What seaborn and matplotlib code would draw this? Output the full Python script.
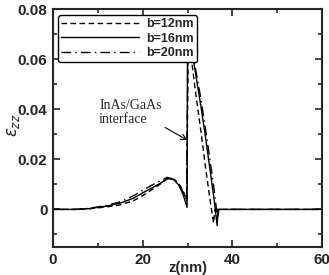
import numpy as np
import pandas as pd
import matplotlib
matplotlib.use("Agg")
import matplotlib.pyplot as plt
import seaborn as sns
from matplotlib.ticker import MultipleLocator

sns.set_style("ticks")
plt.rcParams['font.family'] = ['Liberation Sans', 'DejaVu Sans']

# strain profiles
z_b12 = [0, 5, 8, 10, 12, 15, 18, 20, 22, 24, 25.5, 27, 28, 29, 29.8,
         30.2, 31, 32, 33, 34, 35, 35.8, 36.1, 60]
eps_b12 = [0, 0, 0.0002, 0.0006, 0.001, 0.0018, 0.0035, 0.0055, 0.0078, 0.0102, 0.0122, 0.012, 0.0105, 0.0075, 0.0035,
           0.072, 0.058, 0.044, 0.031, 0.017, 0.004, -0.0055, 0, 0]
z_b16 = [0, 5, 8, 10, 12, 15, 18, 20, 22, 24, 25.5, 27, 28, 29, 29.9,
         30.0, 31, 32, 33, 34, 35, 36, 36.6, 36.8, 60]
eps_b16 = [0, 0, 0.0003, 0.0008, 0.0013, 0.0025, 0.0045, 0.0066, 0.0085, 0.0105, 0.0124, 0.0118, 0.0098, 0.006, 0.0008,
           0.075, 0.063, 0.052, 0.041, 0.029, 0.016, 0.003, -0.0065, 0, 0]
z_b20 = [0, 5, 8, 10, 12, 15, 18, 20, 22, 24, 25.5, 27, 28, 29, 29.8,
         30.1, 31, 32, 33, 34, 35, 36, 36.7, 37.0, 60]
eps_b20 = [0, 0, 0.0004, 0.001, 0.0016, 0.003, 0.0055, 0.0076, 0.0096, 0.0115, 0.0128, 0.012, 0.0102, 0.007, 0.0035,
           0.073, 0.064, 0.054, 0.044, 0.032, 0.02, 0.007, -0.004, 0, 0]

labels = ['b=12nm', 'b=16nm', 'b=20nm']

fig = plt.figure(figsize=(3.29, 2.75), dpi=100)
ax = fig.add_axes([0.161, 0.102, 0.818, 0.865])

sns.lineplot(x=z_b12, y=eps_b12, ax=ax, color='black', lw=1.0, label=labels[0], dashes=(4, 2.5))
sns.lineplot(x=z_b16, y=eps_b16, ax=ax, color='black', lw=1.0, label=labels[1])
sns.lineplot(x=z_b20, y=eps_b20, ax=ax, color='black', lw=1.0, label=labels[2], dashes=(7, 3, 1, 3))

ax.set_xlim(0, 60)
ax.set_ylim(-0.015, 0.08)
ax.set_xticks([0, 20, 40, 60])
ax.set_yticks([0, 0.02, 0.04, 0.06, 0.08])
ax.set_yticklabels(['0', '0.02', '0.04', '0.06', '0.08'])
ax.xaxis.set_minor_locator(MultipleLocator(10))
ax.yaxis.set_minor_locator(MultipleLocator(0.01))
ax.tick_params(which='both', direction='in', top=True, right=True, width=1.2)
ax.tick_params(which='major', length=5, labelsize=11, pad=4)
ax.tick_params(which='minor', length=3)
for t in ax.get_xticklabels() + ax.get_yticklabels():
    t.set_fontweight('bold')
for s in ax.spines.values():
    s.set_linewidth(1.5)

ax.set_xlabel('z(nm)', fontsize=10.5, fontweight='bold', va='top')
ax.xaxis.set_label_coords(0.5, -0.058)
ax.set_ylabel(r'$\varepsilon_{zz}$', fontsize=12, va='center')
ax.yaxis.set_label_coords(-0.148, 0.51)

leg = ax.legend(loc='upper left', bbox_to_anchor=(0.01, 0.985), handlelength=6.2, fancybox=True,
                edgecolor='black', framealpha=1, borderpad=0.25, labelspacing=0.2, handletextpad=0.6,
                borderaxespad=0.2, prop={'weight': 'bold', 'size': 9})
leg.get_frame().set_linewidth(1.0)

ax.annotate('InAs/GaAs\ninterface', xy=(30, 0.0276), xytext=(10.3, 0.0335),
            fontsize=10, family='Liberation Serif', ha='left', va='bottom', linespacing=1.05,
            arrowprops=dict(arrowstyle='->', color='black', lw=0.8, shrinkA=0, shrinkB=0,
                            relpos=(1.0, 0.0)))

fig.savefig('out.png', dpi=100)
